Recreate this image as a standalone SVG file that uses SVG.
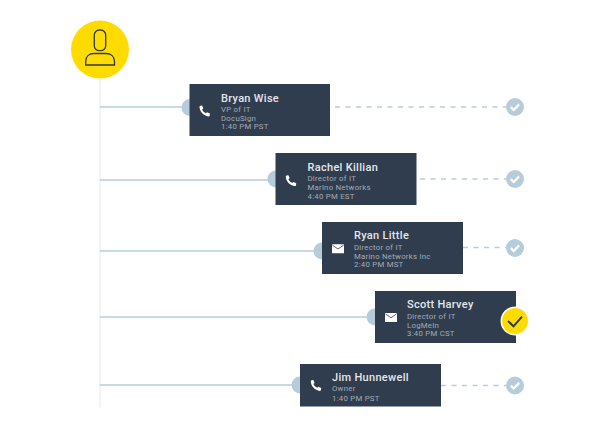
<svg xmlns="http://www.w3.org/2000/svg" width="600" height="427" viewBox="0 0 600 427">
<style>
.card{fill:#303d4e}
.line{stroke:#b7ccdb;stroke-width:1.500;fill:none}
.dash{stroke:#b7ccdb;stroke-width:1.300;stroke-dasharray:5 5.500;fill:none}
.dot{fill:#b7ccdb}
.name{font:500 11px Roboto,sans-serif;fill:#e4e7ea;letter-spacing:.3px}
.sub{font:400 7.800px Roboto,sans-serif;fill:#a3abb5;letter-spacing:.25px}
.tick{fill:none;stroke:#fff;stroke-width:2.300}
.ph{fill:#fff}
</style>
<defs>
<path id="phone" class="ph" d="M-4.600-5.200 -2.600-5.400-1.400-2.600-2.600-1.500C-1.800.1-.6 1.400 1.300 2.300L2.400 1.200 5.200 2.500 5 4.600C4.900 5.200 4.400 5.400 3.800 5.400-1 5-4.900 1-5.200-3.900-5.200-4.500-5.100-5-4.600-5.200Z"/>
<g id="mail"><rect x="-6" y="-4.500" width="12" height="9" rx=".6" fill="#fff"/><path d="M-5.500-3.500 0 .2 5.500-3.500" fill="none" stroke="#303d4e" stroke-width=".8"/></g>
<g id="ok"><circle r="9" fill="#b7ccdb"/><path class="tick" d="M-4.200 .2-1.300 3 4.200-2.600"/></g>
</defs>
<g id="connectors">
<path d="M100 78V407" fill="none" stroke="#f0f2f5" stroke-width="1.500"/>
<path class="line" d="M100 107H190M100 180H276M100 251H322M100 317H375M100 385H300"/>
<path class="dash" d="M335 107H506M420 179H506M463 247.500H506M441 385.500H506"/>
</g>
<g id="avatar">
<circle cx="100" cy="49.500" r="29" fill="#ffdb00"/>
<rect x="94.300" y="30" width="11.400" height="20.700" rx="5" fill="none" stroke="#2b3a4a" stroke-width="1.300"/>
<path d="M85.700 65V61.500C85.700 56.500 89 53.500 94 53.500H106C111 53.500 114.500 56.500 114.500 61.500V65Z" fill="none" stroke="#2b3a4a" stroke-width="1.300"/>
</g>
<g id="node-bryan">
<circle class="dot" cx="190" cy="107.500" r="8.500"/>
<rect class="card" x="189.500" y="84" width="140.500" height="52"/>
<use href="#phone" x="204.700" y="111"/>
<text class="name" x="221" y="101.500">Bryan Wise</text>
<text class="sub" x="221" y="112">VP of IT</text>
<text class="sub" x="221" y="120.700">DocuSign</text>
<text class="sub" x="221" y="129.300">1:40 PM PST</text>
<use href="#ok" x="515" y="107"/>
</g>
<g id="node-rachel">
<circle class="dot" cx="276" cy="179" r="8.500"/>
<rect class="card" x="275.500" y="153" width="141" height="52"/>
<use href="#phone" x="291" y="180.700"/>
<text class="name" x="307.500" y="170.500">Rachel Killian</text>
<text class="sub" x="307.500" y="181">Director of IT</text>
<text class="sub" x="307.500" y="190">Marino Networks</text>
<text class="sub" x="307.500" y="198.500">4:40 PM EST</text>
<use href="#ok" x="515" y="179"/>
</g>
<g id="node-ryan">
<circle class="dot" cx="322" cy="251" r="8.500"/>
<rect class="card" x="322" y="222" width="141" height="52"/>
<use href="#mail" x="338" y="248.800"/>
<text class="name" x="354" y="239">Ryan Little</text>
<text class="sub" x="354" y="250">Director of IT</text>
<text class="sub" x="354" y="258.500">Marino Networks Inc</text>
<text class="sub" x="354" y="267">2:40 PM MST</text>
<use href="#ok" x="515" y="248"/>
</g>
<g id="node-scott">
<circle class="dot" cx="375" cy="317" r="8.500"/>
<rect class="card" x="375" y="291" width="141" height="52"/>
<use href="#mail" x="391" y="317.500"/>
<text class="name" x="407" y="308">Scott Harvey</text>
<text class="sub" x="407" y="319">Director of IT</text>
<text class="sub" x="407" y="327.500">LogMeIn</text>
<text class="sub" x="407" y="336">3:40 PM CST</text>
<circle cx="515" cy="321" r="13.700" fill="#ffdb00" stroke="#fff" stroke-width="1.500"/>
<path d="M508 321 513.500 326.300 522 316.700" fill="none" stroke="#2b3a4a" stroke-width="2"/>
</g>
<g id="node-jim">
<circle class="dot" cx="300" cy="385" r="8.500"/>
<rect class="card" x="300" y="364" width="141" height="42.500"/>
<use href="#phone" x="316" y="385.500"/>
<text class="name" x="332" y="381">Jim Hunnewell</text>
<text class="sub" x="332" y="391">Owner</text>
<text class="sub" x="332" y="400.500">1:40 PM PST</text>
<use href="#ok" x="515" y="385.500"/>
</g>
</svg>
